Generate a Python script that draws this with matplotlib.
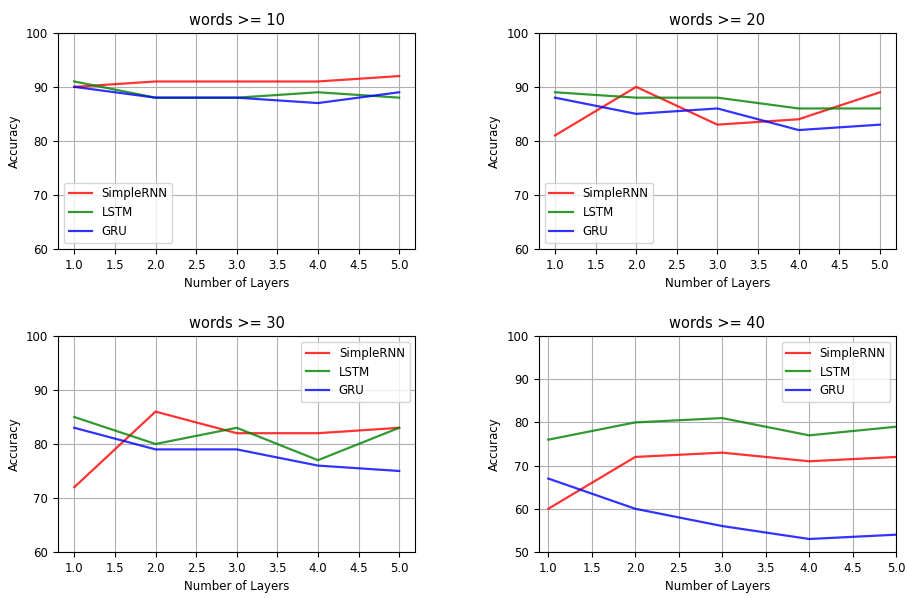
import matplotlib
matplotlib.use('Agg')
import matplotlib.pyplot as plt

layers = [1, 2, 3, 4, 5]
titles = ['words >= 10', 'words >= 20', 'words >= 30', 'words >= 40']

simplernn = [[90, 91, 91, 91, 92],
             [81, 90, 83, 84, 89],
             [72, 86, 82, 82, 83],
             [60, 72, 73, 71, 72]]
lstm = [[91, 88, 88, 89, 88],
        [89, 88, 88, 86, 86],
        [85, 80, 83, 77, 83],
        [76, 80, 81, 77, 79]]
gru = [[90, 88, 88, 87, 89],
       [88, 85, 86, 82, 83],
       [83, 79, 79, 76, 75],
       [67, 60, 56, 53, 54]]

legend_loc = ['lower left', 'lower left', 'upper right', 'upper right']

fig, axes = plt.subplots(2, 2, figsize=(9.07, 5.98), dpi=100)
plt.subplots_adjust(left=0.064, right=0.988, top=0.945, bottom=0.077,
                    wspace=0.345, hspace=0.404)

for i, ax in enumerate(axes.flat):
    ax.plot(layers, simplernn[i], color='r', alpha=0.8, lw=1.6, label='SimpleRNN')
    ax.plot(layers, lstm[i], color='g', alpha=0.8, lw=1.6, label='LSTM')
    ax.plot(layers, gru[i], color='b', alpha=0.8, lw=1.6, label='GRU')
    ax.set_title(titles[i], fontsize=10.5)
    ax.set_xlabel('Number of Layers', fontsize=8.5)
    ax.set_ylabel('Accuracy', fontsize=8.5)
    ax.set_xticks([1.0, 1.5, 2.0, 2.5, 3.0, 3.5, 4.0, 4.5, 5.0])
    ax.tick_params(labelsize=8.5)
    if i == 3:
        ax.set_ylim(50, 100)
        ax.set_yticks(range(50, 101, 10))
        ax.set_xlim(0.89, 5)
    else:
        ax.set_ylim(60, 100)
        ax.set_yticks(range(60, 101, 10))
    ax.grid(True)
    ax.legend(loc=legend_loc[i], fontsize=8.5)

plt.savefig('out.png', dpi=100)
